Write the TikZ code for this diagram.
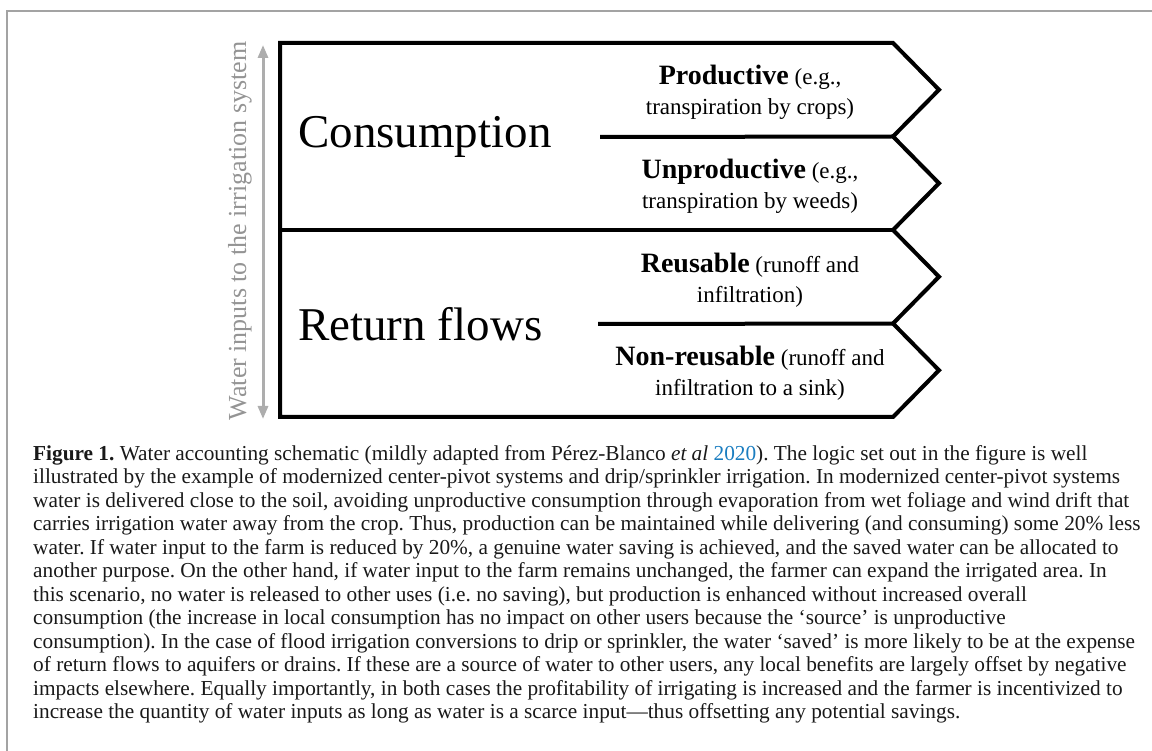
\documentclass[tikz,border=0pt]{standalone}
\usepackage{fontspec}
\setmainfont{Liberation Serif}
\usetikzlibrary{arrows.meta, positioning}
\usepackage{xcolor}
\definecolor{linkblue}{HTML}{1A7DC0}
\definecolor{framegray}{HTML}{A3A3A3}
\def\rowsep{93.5}
\newcommand\headfont{\fontsize{28}{30}\selectfont\bfseries}
\frenchspacing

\begin{document}
\begin{tikzpicture}[x=1pt,y=-1pt]
    \tikzstyle{frame line}=[draw=framegray, line width=1.2pt]
    \tikzstyle{outline}=[draw=black, line width=4pt, line join=miter]
    \tikzstyle{arrow line}=[draw=black!32, line width=3pt, {Triangle[width=10pt,length=13pt]}-{Triangle[width=10pt,length=13pt]}]
    \tikzstyle{big label}=[anchor=west, inner sep=0pt, font=\fontsize{47}{50}\selectfont]
    \tikzstyle{flow label}=[align=center, inner sep=0pt, font=\fontsize{23}{30}\selectfont]
    \tikzstyle{side label}=[rotate=90, inner sep=0pt, text=black!42, font=\fontsize{26}{28}\selectfont]
    \tikzstyle{caption line}=[anchor=base west, inner sep=0pt, font=\fontsize{21.3}{23.5}\selectfont, text=black!90]

    \useasboundingbox (0,0) rectangle (1152,751);

%    page frame
    \draw[frame line] (1152,11) -- (7,11) -- (7,751);

	\foreach \i in {0,...,4}{
		\pgfmathsetmacro\y{43+\i*\rowsep}
		\coordinate (N-\i) at (893,\y);
	}
	\foreach \i in {1,...,4}{
		\pgfmathsetmacro\y{43+(\i-0.5)*\rowsep}
		\coordinate (T-\i) at (939,\y);
	}
	\coordinate (TL) at (280,43);
	\coordinate (BL) at (280,417);

	\draw[outline] (TL) -- (N-0) -- (T-1) -- (N-1) -- (T-2) -- (N-2) -- (T-3) -- (N-3) -- (T-4) -- (N-4) -- (BL) -- cycle;
	\draw[outline] (TL |- N-2) -- (N-2);

	\node[big label] (cons) at (298,137) {Consumption};
	\node[big label] (ret) at (298,324) {Return flows};
	\coordinate (cons-end) at (600,137);
	\coordinate (ret-end) at (598,324);
	\draw[outline] (cons-end) -- (N-1);
	\draw[outline] (ret-end) -- (N-3);

	\node[flow label] (F-1) at (750,{43+0.5*\rowsep+3}) {{\headfont Productive} (e.g.,\\transpiration by crops)};
	\node[flow label] (F-2) at (750,{43+1.5*\rowsep+3}) {{\headfont Unproductive} (e.g.,\\transpiration by weeds)};
	\node[flow label] (F-3) at (750,{43+2.5*\rowsep+3}) {{\headfont Reusable} (runoff and\\infiltration)};
	\node[flow label] (F-4) at (750,{43+3.5*\rowsep+3}) {{\headfont Non-reusable} (runoff and\\infiltration to a sink)};

	\coordinate (A-top) at (263,45);
	\coordinate (A-bot) at (263,419);
	\draw[arrow line] (A-bot) -- (A-top);
	\node[side label] (water) at (240,231) {Water inputs to the irrigation system};

	\foreach \i/\txt in {
		0/{\textbf{Figure 1.} Water accounting schematic (mildly adapted from Pérez-Blanco \textit{et al} {\color{linkblue}2020}). The logic set out in the figure is well},
		1/{illustrated by the example of modernized center-pivot systems and drip/sprinkler irrigation. In modernized center-pivot systems},
		2/{water is delivered close to the soil, avoiding unproductive consumption through evaporation from wet foliage and wind drift that},
		3/{carries irrigation water away from the crop. Thus, production can be maintained while delivering (and consuming) some 20\% less},
		4/{water. If water input to the farm is reduced by 20\%, a genuine water saving is achieved, and the saved water can be allocated to},
		5/{another purpose. On the other hand, if water input to the farm remains unchanged, the farmer can expand the irrigated area. In},
		6/{this scenario, no water is released to other uses (i.e. no saving), but production is enhanced without increased overall},
		7/{consumption (the increase in local consumption has no impact on other users because the ‘source’ is unproductive},
		8/{consumption). In the case of flood irrigation conversions to drip or sprinkler, the water ‘saved’ is more likely to be at the expense},
		9/{of return flows to aquifers or drains. If these are a source of water to other users, any local benefits are largely offset by negative},
		10/{impacts elsewhere. Equally importantly, in both cases the profitability of irrigating is increased and the farmer is incentivized to},
		11/{increase the quantity of water inputs as long as water is a scarce input—thus offsetting any potential savings.}}{
		\node[caption line] (cap-\i) at (33,{460+\i*23.5}) {\txt};
	}
\end{tikzpicture}
\end{document}
